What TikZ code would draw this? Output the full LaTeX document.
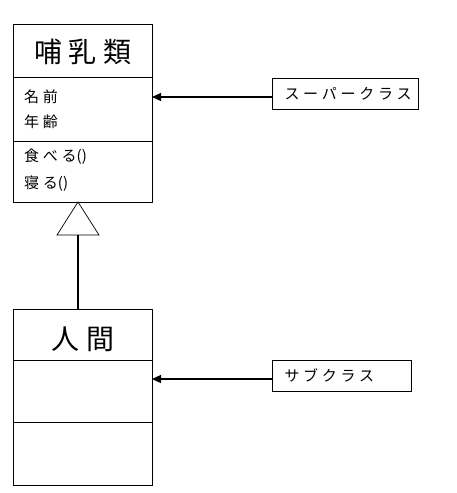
\documentclass[tikz,border=0pt]{standalone}
\usepackage{fontspec}
\setmainfont{Noto Sans CJK JP}
\newfontfamily\spacedjp[LetterSpace=25]{Noto Sans CJK JP}
\newfontfamily\titlejp[LetterSpace=22]{Noto Sans CJK JP}
\newcommand\parenpair{{\rmfamily()}}
\usetikzlibrary{arrows.meta,positioning}
\begin{document}
\begin{tikzpicture}[x=1pt,y=-1pt,
  box/.style={draw,line width=0.8pt},
  member/.style={anchor=west,inner sep=0pt,font=\spacedjp\fontsize{15}{15}\selectfont},
  title/.style={inner sep=0pt,font=\titlejp\fontsize{28}{28}\selectfont},
  lbl/.style={draw,line width=0.8pt,minimum height=31pt,inner sep=0pt,font=\spacedjp\fontsize{15}{15}\selectfont,align=left},
  assoc/.style={line width=1.2pt,-{Triangle[length=9pt,width=8pt]}},
  gen/.style={line width=2pt}]
\useasboundingbox (0,0) rectangle (457,493);
% top class
\draw[box] (13,24) rectangle (152,202);
\draw[box] (13,77) -- (152,77);
\draw[box] (13,141) -- (152,141);
\node[title] (t1) at (83,52) {哺乳類};
\node[member] (m1) at (24,97) {名前};
\node[member] (m2) at (24,122) {年齢};
\node[member] (m3) at (24,157) {食べる\parenpair};
\node[member] (m4) at (24,184) {寝る\parenpair};
\coordinate (topbottom) at (78,202);
% bottom class
\draw[box] (13,309) rectangle (152,485);
\draw[box] (13,360) -- (152,360);
\draw[box] (13,422) -- (152,422);
\node[title] (t2) at (83,339) {人間};
\coordinate (bottomtop) at (78,309);
% generalization
\coordinate (tribase) at (78,235);
\draw[line width=0.7pt,fill=white] (topbottom) -- (57,235) -- (99,235) -- cycle;
\draw[gen] (bottomtop) -- (tribase);
% labels
\node[lbl,minimum width=146pt,text width=135pt] (sup) at (345,93.5) {\hspace*{7pt}スーパークラス};
\node[lbl,minimum width=139pt,text width=128pt] (sub) at (341.5,375.5) {\hspace*{7pt}サブクラス};
\coordinate (a1) at (152,97);
\coordinate (a2) at (152,379);
\draw[assoc] (sup.west |- a1) -- (a1);
\draw[assoc] (sub.west |- a2) -- (a2);
\end{tikzpicture}
\end{document}
